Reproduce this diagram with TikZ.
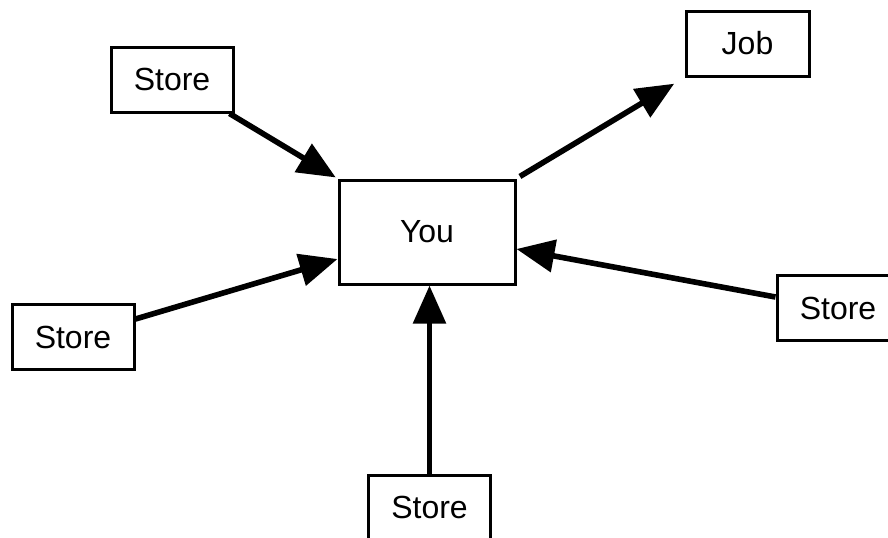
\documentclass[tikz,border=0pt]{standalone}
\usepackage{fontspec}
\setmainfont{Liberation Sans}
\usetikzlibrary{arrows.meta,positioning,calc}

\begin{document}
\begin{tikzpicture}[
    x=0.5pt, y=-0.5pt,
    font=\fontsize{16}{19}\selectfont,
    storebox/.style={rectangle,draw,line width=1.5pt,minimum width=61pt,minimum height=32.5pt},
    youbox/.style={rectangle,draw,line width=1.5pt,minimum width=88pt,minimum height=52pt},
    jobbox/.style={rectangle,draw,line width=1.5pt,minimum width=61.5pt,minimum height=32.5pt},
    link/.style={line width=2.8pt,-{Triangle[length=19pt,width=16pt]}}
]
    \useasboundingbox (0,0) rectangle (888,537);
    \clip (0,0) rectangle (888,537);

    % Nodes
    \node[youbox] (you) at (427,232) {You};
    \node[jobbox] (job) at (747.5,43.5) {Job};
    \node[storebox] (topstore) at (172,79.5) {Store};
    \node[storebox] (leftstore) at (73,337) {Store};
    \node[storebox] (rightstore) at (838,308) {Store};
    \node[storebox] (bottomstore) at (429.5,507.5) {Store};

    % Edges
    \draw[link,shorten >=1pt] ([xshift=-2.5pt]topstore.south east) -- (you.north west);
    \draw[link] ([yshift=9pt]leftstore.east) -- ([yshift=-13.5pt]you.west);
    \draw[link,shorten <=2pt,shorten >=6pt] (you.north east) -- (job.south west);
    \draw[link] ([yshift=5.5pt]rightstore.west) -- ([yshift=-8.5pt]you.east);
    \draw[link] (bottomstore.north) -- (bottomstore.north |- you.south);
\end{tikzpicture}
\end{document}
